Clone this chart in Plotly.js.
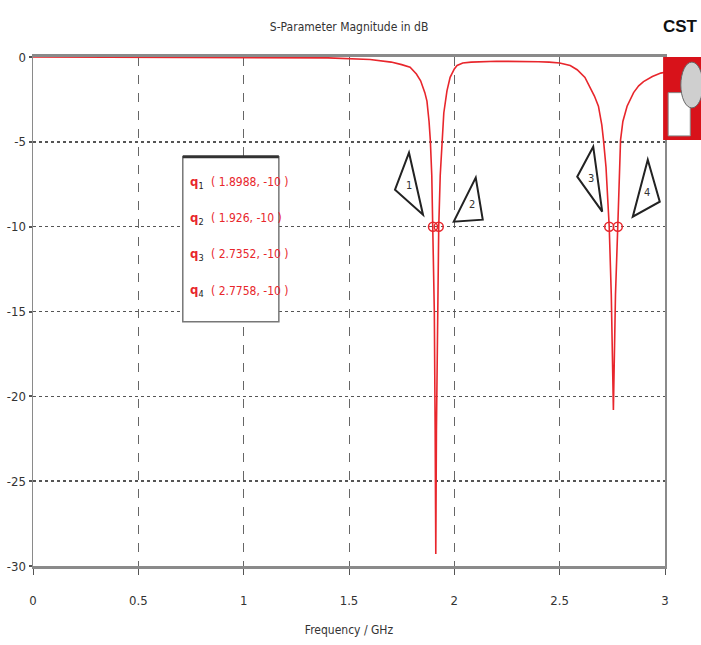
<!DOCTYPE html>
<html><head><meta charset="utf-8">
<script src="https://cdn.plot.ly/plotly-3.0.1.min.js"></script>
<style>html,body{margin:0;padding:0;background:#fff;}#chart{width:701px;height:645px;}</style>
</head><body><div id="chart"></div>
<script>
// S11 curve (frequency GHz, magnitude dB)
const freq = [0,0.5,1.0,1.4,1.6,1.7,1.75,1.79,1.82,1.84,1.86,1.87,1.88,1.886,1.893,1.8988,1.905,1.909,1.912,1.915,1.92,1.926,1.933,1.941,1.95,1.965,1.98,2.0,2.013,2.04,2.08,2.2,2.3,2.4,2.45,2.5,2.55,2.583,2.62,2.646,2.665,2.684,2.70,2.708,2.72,2.7352,2.745,2.755,2.765,2.7758,2.782,2.789,2.80,2.82,2.851,2.875,2.898,2.94,2.98,3.0];
const s11 = [0,-0.01,-0.03,-0.05,-0.15,-0.3,-0.45,-0.6,-1.0,-1.4,-2.1,-2.6,-3.8,-4.9,-7.0,-10,-15,-22,-29.3,-22,-14,-10,-7.0,-4.9,-3.3,-2.0,-1.2,-0.7,-0.5,-0.35,-0.3,-0.25,-0.25,-0.28,-0.3,-0.35,-0.5,-0.75,-1.2,-1.8,-2.3,-2.9,-4.0,-4.9,-6.5,-10,-14,-20.8,-14,-10,-7,-4.9,-3.8,-2.9,-2.1,-1.7,-1.45,-1.15,-0.95,-0.9];
// markers
const markerX = [1.8988, 1.926, 2.7352, 2.7758];
const markerY = [-10, -10, -10, -10];
const markerLabels = ['1','2','3','4'];
const markerTexts = ['( 1.8988, -10 )','( 1.926, -10 )','( 2.7352, -10 )','( 2.7758, -10 )'];
const xTicks = [0,0.5,1,1.5,2,2.5,3];
const xTickText = ['0','0.5','1','1.5','2','2.5','3'];
const yTicks = [0,-5,-10,-15,-20,-25,-30];
const yTickText = ['0','-5','-10','-15','-20','-25','-30'];

const FONT = '"Liberation Sans Narrow","DejaVu Sans Condensed","Liberation Sans",sans-serif';
const RED = '#e8262c';

// callout triangle geometry (pixel offsets from each marker, y up)
const triPaths = [
  'M -24 74 L -38 37 L -10 12 Z',
  'M 37 49 L 15 5 L 44 7 Z',
  'M -16 80 L -32 50 L -7 15 Z',
  'M 30 67 L 42 25 L 15 10 Z'
];
const triLabelShift = [[-24,41],[33,22],[-18,48],[29,34]];

const shapes = [];
const annotations = [];
markerX.forEach((mx,i)=>{
  shapes.push({type:'path', xref:'x', yref:'y', xsizemode:'pixel', ysizemode:'pixel',
    xanchor: mx, yanchor: markerY[i], path: triPaths[i],
    line:{color:'#222', width:2}, fillcolor:'rgba(255,255,255,0.9)', layer:'above'});
  annotations.push({xref:'x', yref:'y', x: mx, y: markerY[i], xshift: triLabelShift[i][0], yshift: triLabelShift[i][1],
    text: markerLabels[i], showarrow:false, font:{family:FONT, size:11, color:'#333'}});
});

// marker info box
const boxX0 = 0.237, boxX1 = 0.389, boxY1 = 0.804, boxY0 = 0.480;
shapes.push({type:'rect', xref:'paper', yref:'paper', x0:boxX0, x1:boxX1, y0:boxY0, y1:boxY1,
  line:{color:'#777', width:1.5}, fillcolor:'#fff', layer:'above'});
shapes.push({type:'line', xref:'paper', yref:'paper', x0:boxX0, x1:boxX1, y0:boxY1, y1:boxY1,
  line:{color:'#333', width:3}, layer:'above'});
markerTexts.forEach((t,i)=>{
  const yy = boxY1 - 0.05 - i*0.071;
  annotations.push({xref:'paper', yref:'paper', x: boxX0+0.008, y: yy, xanchor:'left', yanchor:'middle',
    text:'<span style="color:'+RED+'"><b>q</b></span><sub>'+markerLabels[i]+'</sub>', showarrow:false,
    font:{family:FONT, size:13, color:'#222'}});
  annotations.push({xref:'paper', yref:'paper', x: boxX0+0.042, y: yy, xanchor:'left', yanchor:'middle',
    text: t, showarrow:false, font:{family:FONT, size:12, color:RED}});
});

// CST logo
annotations.push({xref:'paper', yref:'paper', x:1.055, y:1.06, xanchor:'right', yanchor:'middle',
  text:'<b>CST</b>', showarrow:false, font:{family:'"Liberation Sans",Arial,sans-serif', size:17, color:'#111'}});
shapes.push({type:'rect', xref:'paper', yref:'paper', x0:0.997, x1:1.06, y0:0.837, y1:1.0, fillcolor:'#d8121a', line:{width:0}});
shapes.push({type:'rect', xref:'paper', yref:'paper', x0:1.005, x1:1.04, y0:0.845, y1:0.93, fillcolor:'#fff', line:{color:'#888',width:1}});
shapes.push({type:'circle', xref:'paper', yref:'paper', x0:1.025, x1:1.06, y0:0.9, y1:0.99, fillcolor:'#cfcfcf', line:{color:'#666',width:1}});

const traces = [
  {x: freq, y: s11, mode:'lines', line:{color:RED, width:1.6}, hoverinfo:'x+y'},
  {x: markerX, y: markerY, mode:'markers', marker:{symbol:'circle-open', size:9, color:RED, line:{width:1.5}}}
];

const layout = {
  width:701, height:645,
  margin:{l:33, r:36, t:57, b:79},
  paper_bgcolor:'#fff', plot_bgcolor:'#fff',
  showlegend:false,
  title:{text:'S-Parameter Magnitude in dB', x:0.498, xanchor:'center', y:0.958, yanchor:'middle',
    font:{family:FONT, size:12, color:'#333'}},
  xaxis:{range:[0,3], tickvals:xTicks, ticktext:xTickText, showgrid:true, gridcolor:'#666', griddash:'dash', gridwidth:1,
    showline:true, linecolor:'#8a8a8a', linewidth:3, mirror:true, zeroline:false,
    ticks:'outside', ticklen:6, tickcolor:'#555', tickwidth:1, ticklabelstandoff:14,
    tickfont:{family:FONT, size:13, color:'#333'},
    title:{text:'Frequency / GHz', font:{family:FONT, size:12, color:'#333'}, standoff:20}},
  yaxis:{range:[-30,0], tickvals:yTicks, ticktext:yTickText, showgrid:true, gridcolor:'#555', griddash:'dot', gridwidth:1.6,
    showline:true, linecolor:'#8a8a8a', linewidth:1.5, mirror:true, zeroline:false,
    ticks:'outside', ticklen:3, tickcolor:'#555', tickwidth:2,
    tickfont:{family:FONT, size:13, color:'#333'}},
  shapes: shapes,
  annotations: annotations
};
Plotly.newPlot('chart', traces, layout, {displayModeBar:false, staticPlot:true});
</script></body></html>
